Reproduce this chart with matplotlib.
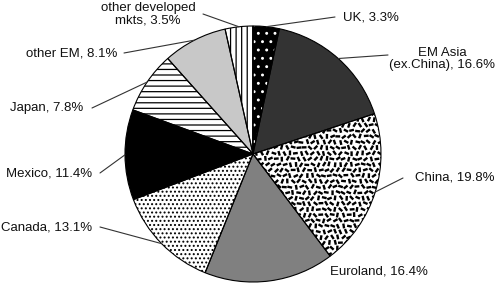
import numpy as np
import matplotlib
matplotlib.use("Agg")
import matplotlib.pyplot as plt
from matplotlib.collections import LineCollection

# ---- data ----
labels = ["UK, 3.3%", "EM Asia\n(ex.China), 16.6%", "China, 19.8%", "Euroland, 16.4%",
          "Canada, 13.1%", "Mexico, 11.4%", "Japan, 7.8%", "other EM, 8.1%",
          "other developed\nmkts, 3.5%"]
shares = [3.3, 16.6, 19.8, 16.4, 13.1, 11.4, 7.8, 8.1, 3.5]

# ---- styles ----
faces = ["black", "#333333", "white", "#808080", "white", "black", "white", "#c8c8c8", "white"]
hatches = ["..", None, None, None, "....", None, "---", None, "|||"]
hatch_cols = ["white", None, None, None, "black", None, "black", None, "black"]

# label layout (pixel positions from top-left), alignment, leader start (None = no leader)
lab_pos = [(343, 17), (442, 59), (415, 178), (330, 272), (92, 228), (92, 173),
           (83, 108), (117, 53), (148, 14)]
lab_ha = ["left", "center", "left", "left", "right", "right", "right", "right", "center"]
lead_start = [(335, 17), (388, 55), (403, 178), None, (100, 227), (100, 173),
              (92, 108), (124, 53), (203, 14)]

W, H = 498, 288
plt.rcParams["font.family"] = ["Liberation Sans", "DejaVu Sans"]
plt.rcParams["hatch.linewidth"] = 0.9

fig = plt.figure(figsize=(W / 100, H / 100), dpi=100)
cx, cy, R = 253, 154, 128
ax = fig.add_axes([(cx - R) / W, (H - cy - R) / H, 2 * R / W, 2 * R / H])

wedges, _ = ax.pie(shares, startangle=90, counterclock=False, radius=1,
                   colors=faces, wedgeprops=dict(linewidth=0))
for w, h, hc in zip(wedges, hatches, hatch_cols):
    if h:
        w.set_edgecolor(hc)
        w.set_linewidth(0)
        w.set_hatch(h)

# texture of short dashes for China slice (decorative fill pattern)
def _h(a, b, k):
    v = np.sin(a * 12.9898 + b * 78.233 + k * 37.719) * 43758.5453
    return v - np.floor(v)

china = wedges[2]
step = 5.6 / R
n = int(2 / step) + 2
segs = []
L = 2.4 / R
for i in range(n):
    for j in range(n):
        xx = -1 + i * step + (j % 2) * 0.5 * step + (_h(i, j, 1) - 0.5) * 0.2 * step
        yy = -1 + j * step + (_h(i, j, 2) - 0.5) * 0.2 * step
        ang = _h(i, j, 3) * np.pi
        segs.append([(xx - L * np.cos(ang), yy - L * np.sin(ang)),
                     (xx + L * np.cos(ang), yy + L * np.sin(ang))])
lc = LineCollection(segs, colors="black", linewidths=1.7, capstyle="butt")
ax.add_collection(lc)
lc.set_clip_path(china)

# outlines
ax.pie(shares, startangle=90, counterclock=False, radius=1,
       wedgeprops=dict(fill=False, edgecolor="black", linewidth=0.8))
ax.set_xlim(-1, 1)
ax.set_ylim(-1, 1)
ax.set_aspect("equal")
ax.axis("off")

# labels & leader lines
for w, lab, (px, py), ha, ls in zip(wedges, labels, lab_pos, lab_ha, lead_start):
    fig.text(px / W, 1 - py / H, lab, ha=ha, va="center", fontsize=9.5,
             color="#111111", linespacing=1.05)
    if ls is not None:
        mid = np.deg2rad((w.theta1 + w.theta2) / 2)
        ax.annotate("", xy=(np.cos(mid), np.sin(mid)), xycoords="data",
                    xytext=(ls[0], H - ls[1]), textcoords="figure pixels",
                    arrowprops=dict(arrowstyle="-", color="#333333", lw=0.8,
                                    shrinkA=0, shrinkB=0),
                    annotation_clip=False)

fig.savefig("out.png", dpi=100)
